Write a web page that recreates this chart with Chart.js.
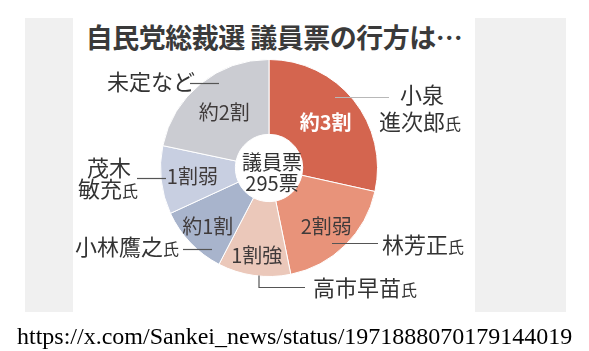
<!DOCTYPE html>
<html lang="ja">
<head>
<meta charset="utf-8">
<script src="https://cdn.jsdelivr.net/npm/chart.js@4"></script>
<style>
  html, body { margin: 0; padding: 0; background: #fff; }
  body { width: 589px; height: 351px; position: relative; overflow: hidden; }
  .side { position: absolute; top: 18px; height: 294px; background: #f0f0f0; }
  #title {
    position: absolute; left: 0; top: 18px; width: 548px; text-align: center;
    font-family: "Noto Sans CJK JP", sans-serif; font-weight: bold; font-size: 27px;
    color: #3a3a3a; line-height: 38px; letter-spacing: -0.5px;
  }
  #src {
    position: absolute; left: 17px; top: 321px;
    font-family: "Liberation Serif", serif; font-size: 24px; color: #000; line-height: 30px;
  }
  canvas { position: absolute; left: 0; top: 0; }
</style>
</head>
<body>
<div class="side" style="left:25px;width:48px"></div>
<div class="side" style="left:475px;width:91px"></div>
<div id="title">自民党総裁選 議員票の行方は…</div>
<canvas id="pie" width="589" height="351"></canvas>
<div id="src">https://x.com/Sankei_news/status/1971888070179144019</div>

<script>
// data (295 votes in total)
const candidates = ['小泉進次郎氏', '林芳正氏', '高市早苗氏', '小林鷹之氏', '茂木敏充氏', '未定など'];
const votes = [84, 54, 32, 31, 30, 64];
const shareLabels = ['約3割', '2割弱', '1割強', '約1割', '1割弱', '約2割'];
const sliceColors = ['#d4654f', '#e8937a', '#ebc8ba', '#a8b4cc', '#c8cfe1', '#cbccd2'];

// how far out (0 = inner edge, 1 = outer edge) each share label sits
const shareRadius = [0.52, 0.64, 0.73, 0.68, 0.58, 0.50];

// name labels next to the pie, offsets from the pie centre
// each line: [text, suffix drawn smaller, dx, dy]
const nameLayout = [
    { lines: [['小泉', '', 131, -73], ['進次郎', '氏', 110, -46]], line: [[66, -71], [120, -71]], lineColor: '#b8b8b8' },
    { lines: [['林芳正', '氏', 113, 77]], line: [[63, 75], [109, 75]] },
    { lines: [['高市早苗', '氏', 44, 120]], line: [[-10, 107], [-10, 119], [36, 119]] },
    { lines: [['小林鷹之', '氏', -194, 79]], line: [[-86, 81], [-57, 81]] },
    { lines: [['茂木', '', -182, 0], ['敏充', '氏', -191, 21]], line: [[-132, 10], [-103, 10]] },
    { lines: [['未定など', '', -162, -86]], line: [[-79, -85], [-50, -85]] }
];

const sansFont = '"Noto Sans CJK JP", sans-serif';

const labelPlugin = {
    id: 'sliceLabels',
    afterDatasetsDraw(chart) {
        const ctx = chart.ctx;
        const arcs = chart.getDatasetMeta(0).data;
        const cx = arcs[0].x;
        const cy = arcs[0].y;
        ctx.save();
        ctx.textBaseline = 'middle';

        // share text inside each slice
        arcs.forEach((arc, i) => {
            const mid = (arc.startAngle + arc.endAngle) / 2;
            const r = arc.innerRadius + (arc.outerRadius - arc.innerRadius) * shareRadius[i];
            ctx.textAlign = 'center';
            ctx.font = (i === 0 ? 'bold ' : '') + '20px ' + sansFont;
            ctx.fillStyle = i === 0 ? '#ffffff' : '#3f3a3a';
            ctx.fillText(shareLabels[i], cx + Math.cos(mid) * r, cy + Math.sin(mid) * r);
        });

        // centre text
        const total = votes.reduce((a, b) => a + b, 0);
        ctx.textAlign = 'center';
        ctx.fillStyle = '#333';
        ctx.font = '20px ' + sansFont;
        ctx.fillText('議員票', cx + 3, cy - 6);
        ctx.fillText(total + '票', cx + 3, cy + 15);

        // names with leader lines
        nameLayout.forEach(item => {
            ctx.beginPath();
            item.line.forEach((p, k) => {
                if (k === 0) ctx.moveTo(cx + p[0], cy + p[1] + 0.5);
                else ctx.lineTo(cx + p[0], cy + p[1] + 0.5);
            });
            ctx.strokeStyle = item.lineColor || '#555';
            ctx.lineWidth = 1.2;
            ctx.stroke();

            ctx.textAlign = 'left';
            ctx.fillStyle = '#333';
            item.lines.forEach(l => {
                ctx.font = '22px ' + sansFont;
                ctx.fillText(l[0], cx + l[2], cy + l[3]);
                if (l[1]) {
                    const w = ctx.measureText(l[0]).width;
                    ctx.font = '16px ' + sansFont;
                    ctx.fillText(l[1], cx + l[2] + w, cy + l[3] + 2);
                }
            });
        });
        ctx.restore();
    }
};

new Chart(document.getElementById('pie'), {
    type: 'doughnut',
    data: {
        labels: candidates,
        datasets: [{
            data: votes,
            backgroundColor: sliceColors,
            borderColor: '#ffffff',
            borderWidth: 1
        }]
    },
    options: {
        responsive: false,
        animation: false,
        cutout: '31%',
        layout: { padding: { left: 160, right: 211, top: 59, bottom: 74 } },
        plugins: {
            legend: { display: false },
            tooltip: { enabled: false }
        }
    },
    plugins: [labelPlugin]
});
</script>
</body>
</html>
